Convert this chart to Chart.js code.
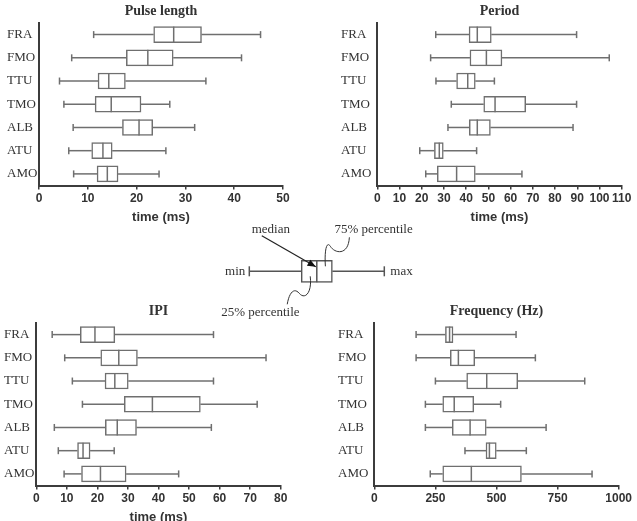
<!DOCTYPE html>
<html><head><meta charset="utf-8">
<script src="https://cdn.jsdelivr.net/npm/chart.js@4/dist/chart.umd.min.js"></script>
<style>
html,body{margin:0;padding:0;background:#fff;overflow:hidden;}
#wrap{position:relative;width:637px;height:521px;}
canvas{position:absolute;display:block;}
</style></head><body><div id="wrap">
<canvas id="c1" width="300" height="230" style="left:0;top:0"></canvas>
<canvas id="c2" width="317" height="230" style="left:320px;top:0"></canvas>
<canvas id="c3" width="300" height="230" style="left:0;top:300px"></canvas>
<canvas id="c4" width="317" height="230" style="left:320px;top:300px"></canvas>
<canvas id="c5" width="240" height="110" style="left:200px;top:215px"></canvas>
</div>
<script>
// ---- data ----
const categories = ['FRA','FMO','TTU','TMO','ALB','ATU','AMO'];

const pulseMin = [11.2, 6.7, 4.2, 5.1, 7.0, 6.1, 7.1];
const pulseQ1  = [23.5, 17.9, 12.1, 11.5, 17.1, 10.8, 11.9];
const pulseMed = [27.6, 22.3, 14.3, 14.8, 20.5, 13.1, 14.0];
const pulseQ3  = [33.3, 27.5, 17.7, 20.9, 23.3, 15.0, 16.2];
const pulseMax = [45.4, 41.5, 34.2, 26.8, 31.9, 26.0, 24.6];

const periodMin = [26.3, 24.0, 26.4, 33.3, 31.8, 19.1, 21.8];
const periodQ1  = [41.3, 41.7, 35.7, 47.9, 41.4, 25.7, 27.0];
const periodMed = [45.0, 49.1, 40.7, 53.0, 45.0, 27.9, 35.7];
const periodQ3  = [51.3, 56.1, 44.1, 66.8, 50.9, 29.7, 44.1];
const periodMax = [89.7, 104.4, 52.7, 89.7, 88.1, 44.7, 65.1];

const ipiMin = [5.2, 9.3, 11.8, 15.1, 5.9, 7.2, 9.1];
const ipiQ1  = [14.4, 21.1, 22.5, 28.8, 22.6, 13.5, 14.8];
const ipiMed = [19.2, 27.0, 25.7, 38.0, 26.5, 15.3, 21.0];
const ipiQ3  = [25.7, 33.1, 30.1, 53.7, 32.8, 17.6, 29.4];
const ipiMax = [58.0, 75.2, 58.0, 72.3, 57.3, 25.5, 46.6];

const freqMin = [171, 171, 250, 209, 209, 371, 229];
const freqQ1  = [291, 311, 378, 280, 319, 457, 280];
const freqMed = [308, 344, 460, 327, 392, 471, 397];
const freqQ3  = [322, 411, 587, 407, 458, 499, 602];
const freqMax = [580, 659, 861, 517, 703, 622, 891];

const pulseTicks  = {max: 50, step: 10};
const periodTicks = {max: 110, step: 10};
const ipiTicks    = {max: 80, step: 10};
const freqTicks   = {max: 1000, step: 250};

// schematic legend box (arbitrary units)
const legendLabel = ['schema'];
const legendMin = [0], legendQ1 = [10], legendMed = [13], legendQ3 = [16], legendMax = [26];

// ---- styles ----
const boxColor = '#6f6f6f';
const axisColor = '#3c3c3c';
const textColor = '#333333';
const serif = "'Liberation Serif','Times New Roman',serif";
const sans = "'Liberation Sans',Arial,sans-serif";

const boxPlugin = {
  id: 'boxWhisker',
  afterDatasetsDraw(chart) {
    const ds = chart.data.datasets[0];
    const st = ds.stats;
    const meta = chart.getDatasetMeta(0);
    const xs = chart.scales.x;
    const c = chart.ctx;
    const cap = ds.capHalf || 4;
    c.save();
    c.strokeStyle = ds.borderColor;
    c.lineWidth = ds.borderWidth;
    const line = (x1, y1, x2, y2) => { c.beginPath(); c.moveTo(x1, y1); c.lineTo(x2, y2); c.stroke(); };
    meta.data.forEach((bar, i) => {
      const y = bar.y, h = bar.height;
      const pMin = xs.getPixelForValue(st.min[i]);
      const pQ1 = xs.getPixelForValue(st.q1[i]);
      const pMed = xs.getPixelForValue(st.med[i]);
      const pQ3 = xs.getPixelForValue(st.q3[i]);
      const pMax = xs.getPixelForValue(st.max[i]);
      line(pMin, y, pQ1, y);
      line(pQ3, y, pMax, y);
      line(pMin, y - cap, pMin, y + cap);
      line(pMax, y - cap, pMax, y + cap);
      line(pMed, y - h / 2, pMed, y + h / 2);
    });
    c.restore();
  }
};

const titlePlugin = {
  id: 'panelTitle',
  afterDraw(chart, args, opts) {
    if (!opts || !opts.text) return;
    const c = chart.ctx, a = chart.chartArea;
    c.save();
    c.font = 'bold 14px ' + serif;
    c.fillStyle = textColor;
    c.textAlign = 'center';
    c.textBaseline = 'middle';
    c.fillText(opts.text, (a.left + a.right) / 2, a.top - 12);
    c.restore();
  }
};

function makePanel(id, title, ticksDef, stats, padLeft, yWidth, padRight, axisTitle) {
  new Chart(document.getElementById(id), {
    type: 'bar',
    data: {
      labels: categories,
      datasets: [{
        data: stats.q1.map((v, i) => [v, stats.q3[i]]),
        backgroundColor: '#ffffff',
        borderColor: boxColor,
        borderWidth: 1.5,
        borderSkipped: false,
        barThickness: 16,
        capHalf: 3.5,
        stats: stats
      }]
    },
    options: {
      indexAxis: 'y',
      responsive: false,
      animation: false,
      events: [],
      layout: {padding: {top: 23, right: padRight, left: padLeft, bottom: 0}},
      plugins: {
        legend: {display: false},
        tooltip: {enabled: false},
        title: {display: false},
        panelTitle: {text: title}
      },
      scales: {
        x: {
          type: 'linear', min: 0, max: ticksDef.max,
          ticks: {stepSize: ticksDef.step, autoSkip: false, maxRotation: 0, padding: 2,
                  callback: v => String(v),
                  color: textColor, font: {family: sans, weight: 'bold', size: 12}},
          grid: {drawOnChartArea: false, drawTicks: true, tickLength: 4, color: axisColor, lineWidth: 1.5},
          border: {display: true, color: axisColor, width: 2},
          title: {display: !!axisTitle, text: axisTitle || '', color: textColor,
                  font: {family: sans, weight: 'bold', size: 13}, padding: {top: 0, bottom: 5}},
          afterFit: s => { s.height = 44.5; }
        },
        y: {
          ticks: {crossAlign: 'far', padding: 3, color: textColor, font: {family: serif, size: 13}},
          grid: {display: true, drawOnChartArea: false, drawTicks: false},
          border: {display: true, color: axisColor, width: 2},
          afterFit: s => { s.width = yWidth; }
        }
      }
    },
    plugins: [boxPlugin, titlePlugin]
  });
}

makePanel('c1', 'Pulse length', pulseTicks,
  {min: pulseMin, q1: pulseQ1, med: pulseMed, q3: pulseQ3, max: pulseMax}, 7, 32, 17, 'time (ms)');
makePanel('c2', 'Period', periodTicks,
  {min: periodMin, q1: periodQ1, med: periodMed, q3: periodQ3, max: periodMax}, 21, 36.3, 15.3, 'time (ms)');
makePanel('c3', 'IPI', ipiTicks,
  {min: ipiMin, q1: ipiQ1, med: ipiMed, q3: ipiQ3, max: ipiMax}, 4, 32.3, 19.3, 'time (ms)');
makePanel('c4', 'Frequency (Hz)', freqTicks,
  {min: freqMin, q1: freqQ1, med: freqMed, q3: freqQ3, max: freqMax}, 18, 36.3, 18.3, '');

// ---- schematic legend ----
const legendNotes = {
  id: 'legendNotes',
  afterDraw(chart) {
    const c = chart.ctx;
    const xs = chart.scales.x;
    const bar = chart.getDatasetMeta(0).data[0];
    const yc = bar.y;
    const pMin = xs.getPixelForValue(legendMin[0]);
    const pQ1 = xs.getPixelForValue(legendQ1[0]);
    const pMed = xs.getPixelForValue(legendMed[0]);
    const pQ3 = xs.getPixelForValue(legendQ3[0]);
    const pMax = xs.getPixelForValue(legendMax[0]);
    c.save();
    c.font = '13px ' + serif;
    c.fillStyle = textColor;
    c.textBaseline = 'middle';
    c.textAlign = 'right';
    c.fillText('min', pMin - 4, yc);
    c.textAlign = 'left';
    c.fillText('max', pMax + 6, yc);
    c.textAlign = 'center';
    c.fillText('median', pMed - 46, yc - 42);
    c.textAlign = 'left';
    c.fillText('75% percentile', pQ3 + 2, yc - 42);
    c.fillText('25% percentile', pQ1 - 80, yc + 41);

    // arrow to the median
    c.strokeStyle = '#222';
    c.fillStyle = '#111';
    c.lineWidth = 1.2;
    const x0 = pMed - 55, y0 = yc - 35.5, x1 = pMed - 1, y1 = yc - 4.5;
    c.beginPath(); c.moveTo(x0, y0); c.lineTo(x1, y1); c.stroke();
    const ang = Math.atan2(y1 - y0, x1 - x0), L = 9, W = 0.4;
    c.beginPath();
    c.moveTo(x1, y1);
    c.lineTo(x1 - L * Math.cos(ang - W), y1 - L * Math.sin(ang - W));
    c.lineTo(x1 - L * Math.cos(ang + W), y1 - L * Math.sin(ang + W));
    c.closePath(); c.fill();

    // squiggle to the 75% edge
    c.strokeStyle = '#333';
    c.lineWidth = 1;
    c.beginPath();
    c.moveTo(pQ3 + 17, yc - 34);
    c.bezierCurveTo(pQ3 + 16, yc - 15, pQ3 + 2, yc - 18, pQ3 - 2, yc - 25);
    c.bezierCurveTo(pQ3 - 6, yc - 31, pQ3 - 8, yc - 20, pQ3 - 7, yc - 5);
    c.stroke();
    // squiggle to the 25% edge
    c.beginPath();
    c.moveTo(pQ1 + 9, yc + 5);
    c.bezierCurveTo(pQ1 + 11, yc + 21, pQ1 + 4, yc + 29, pQ1 - 2, yc + 22);
    c.bezierCurveTo(pQ1 - 7, yc + 16, pQ1 - 12, yc + 21, pQ1 - 14, yc + 33);
    c.stroke();
    c.restore();
  }
};

new Chart(document.getElementById('c5'), {
  type: 'bar',
  data: {
    labels: legendLabel,
    datasets: [{
      data: legendQ1.map((v, i) => [v, legendQ3[i]]),
      backgroundColor: '#ffffff',
      borderColor: '#555555',
      borderWidth: 1.5,
      borderSkipped: false,
      barThickness: 22,
      capHalf: 5,
      stats: {min: legendMin, q1: legendQ1, med: legendMed, q3: legendQ3, max: legendMax}
    }]
  },
  options: {
    indexAxis: 'y',
    responsive: false,
    animation: false,
    events: [],
    layout: {padding: {top: 36.3, bottom: 33.7, left: 49.3, right: 55.7}},
    plugins: {legend: {display: false}, tooltip: {enabled: false}},
    scales: {
      x: {type: 'linear', min: 0, max: 26, display: false},
      y: {display: false}
    }
  },
  plugins: [boxPlugin, legendNotes]
});
</script></body></html>
